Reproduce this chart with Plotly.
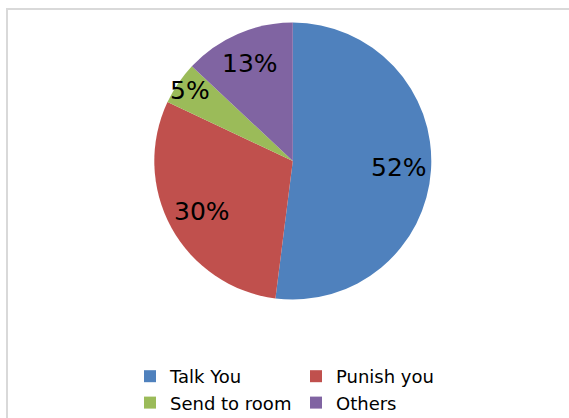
import math
import plotly.graph_objects as go

# Survey answers and their shares (percent)
categories = ["Talk You", "Punish you", "Send to room", "Others"]
shares = [52, 30, 5, 13]
colors = ["#4F81BD", "#C0504D", "#9BBB59", "#8064A2"]

# Radial placement of each percentage label (fraction of radius)
label_radius = [0.77, 0.75, 0.90, 0.77]

W, H = 569, 418
ML, MR = 0, 100           # right margin narrows the plot area so the legend wraps 2x2
GW = W - ML - MR
CX, CY, R = 292.8, 161.0, 138.5  # pie centre / radius in px


def xp(px):
    return (px - ML) / GW


def yp(py):
    return 1 - py / H


fig = go.Figure()
fig.add_trace(go.Pie(
    labels=categories,
    values=shares,
    marker=dict(colors=colors, line=dict(width=0)),
    sort=False,
    direction="clockwise",
    rotation=0,
    textinfo="none",
    hoverinfo="label+percent",
    domain=dict(x=[xp(CX - R), xp(CX + R)],
                y=[yp(CY + R), yp(CY - R)]),
    showlegend=True,
))

# Percentage labels at each slice's mid-angle
total = sum(shares)
cum = 0.0
annotations = []
for v, f in zip(shares, label_radius):
    mid = (cum + v / 2) / total * 2 * math.pi
    cum += v
    px = CX + f * R * math.sin(mid)
    py = CY - f * R * math.cos(mid)
    annotations.append(dict(
        x=xp(px), y=yp(py), xref="paper", yref="paper",
        text=f"{round(v / total * 100)}%", showarrow=False,
        font=dict(family="DejaVu Sans", size=25, color="#000000"),
        xanchor="center", yanchor="middle",
    ))

fig.update_layout(
    width=W, height=H,
    margin=dict(l=ML, r=MR, t=0, b=0, autoexpand=False),
    paper_bgcolor="#ffffff",
    plot_bgcolor="#ffffff",
    font=dict(family="DejaVu Sans", size=18, color="#000000"),
    annotations=annotations,
    shapes=[dict(type="rect", xref="paper", yref="paper",
                 x0=xp(7), x1=xp(W + 20), y0=-0.05, y1=yp(9),
                 line=dict(color="#d9d9d9", width=2))],
    legend=dict(orientation="h", x=xp(130), y=yp(358),
                xanchor="left", yanchor="top",
                entrywidth=121, tracegroupgap=0,
                font=dict(family="DejaVu Sans", size=18, color="#000000"),
                bgcolor="rgba(0,0,0,0)"),
)

fig.write_html("out.html")
